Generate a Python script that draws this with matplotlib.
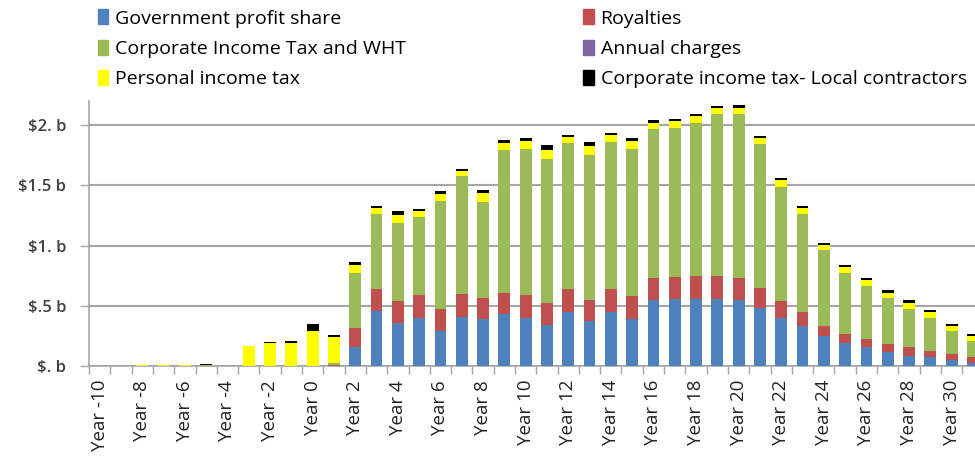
import numpy as np
import matplotlib.pyplot as plt
from matplotlib.patches import Patch

plt.rcParams['font.family'] = ['Open Sans', 'DejaVu Sans']

# Years -10 .. 31
years = list(range(-10, 32))

# values in $ billions
gov_profit = [0, 0, 0, 0, 0, 0, 0, 0, 0, 0, 0, 0,
              0.16, 0.46, 0.36, 0.40, 0.29, 0.41, 0.39, 0.43, 0.40, 0.34, 0.45, 0.37, 0.45, 0.39,
              0.55, 0.56, 0.56, 0.56, 0.55, 0.485, 0.40, 0.33, 0.245, 0.19, 0.155, 0.12, 0.085, 0.078, 0.048, 0.028]
royalties = [0, 0, 0, 0, 0, 0, 0, 0, 0, 0, 0, 0.01,
             0.155, 0.18, 0.18, 0.19, 0.18, 0.19, 0.175, 0.18, 0.19, 0.18, 0.19, 0.175, 0.19, 0.19,
             0.18, 0.18, 0.19, 0.19, 0.18, 0.165, 0.14, 0.12, 0.09, 0.076, 0.07, 0.064, 0.076, 0.048, 0.05, 0.048]
corp_tax = [0, 0, 0.004, 0.004, 0.004, 0.005, 0, 0, 0, 0, 0, 0.018,
            0.46, 0.62, 0.65, 0.645, 0.90, 0.975, 0.80, 1.18, 1.21, 1.20, 1.21, 1.21, 1.22, 1.22,
            1.235, 1.24, 1.27, 1.345, 1.36, 1.19, 0.945, 0.81, 0.625, 0.505, 0.44, 0.38, 0.315, 0.27, 0.195, 0.135]
annual_charges = [0] * 42
personal_tax = [0, 0, 0.002, 0.003, 0.003, 0.002, 0, 0.165, 0.19, 0.19, 0.29, 0.21,
                0.064, 0.048, 0.067, 0.05, 0.056, 0.042, 0.07, 0.064, 0.064, 0.076, 0.048, 0.073, 0.056, 0.064,
                0.053, 0.05, 0.056, 0.05, 0.056, 0.05, 0.056, 0.053, 0.048, 0.048, 0.048, 0.045, 0.05, 0.056, 0.042, 0.034]
local_contr = [0, 0, 0.002, 0.003, 0.003, 0.006, 0, 0.005, 0.012, 0.015, 0.062, 0.02,
               0.022, 0.017, 0.028, 0.022, 0.028, 0.017, 0.028, 0.025, 0.028, 0.036, 0.017, 0.034, 0.02, 0.025,
               0.022, 0.022, 0.02, 0.014, 0.017, 0.017, 0.017, 0.017, 0.017, 0.02, 0.02, 0.02, 0.02, 0.017, 0.017, 0.017]

series = [
    ('Government profit share', gov_profit, '#4F81BD'),
    ('Royalties', royalties, '#C0504D'),
    ('Corporate Income Tax and WHT', corp_tax, '#9BBB59'),
    ('Annual charges', annual_charges, '#8064A2'),
    ('Personal income tax', personal_tax, '#FFFF00'),
    ('Corporate income tax- Local contractors', local_contr, '#000000'),
]

fig = plt.figure(figsize=(9.75, 4.57), dpi=100)
ax = fig.add_axes([89 / 975, 91 / 457, 894.6 / 975, 265 / 457])

x = np.arange(len(years))
bottom = np.zeros(len(years))
for name, vals, col in series:
    vals = np.array(vals)
    ax.bar(x, vals, 0.55, bottom=bottom, color=col, zorder=3)
    bottom += vals

ax.set_xlim(-0.5, len(years) - 0.5)
ax.set_ylim(0, 2.2)
ax.set_yticks([0, 0.5, 1.0, 1.5, 2.0])
ax.set_yticklabels(['$. b', '$.5 b', '$1. b', '$1.5 b', '$2. b'],
                   fontsize=12, fontweight='semibold', color='#404040')
ax.yaxis.grid(True, color='#a6a6a6', lw=1.5, zorder=0)

ax.set_xticks(x[::2])
ax.set_xticklabels(['Year %d' % y for y in years[::2]], rotation=90, fontsize=13.5, color='#222222')
ax.set_xticks(np.arange(-0.5, len(years), 1), minor=True)
ax.tick_params(axis='x', which='major', length=0, pad=10)
ax.tick_params(axis='x', which='minor', length=6, color='#a6a6a6', width=1)
ax.tick_params(axis='y', length=6.5, color='#a6a6a6', width=1, pad=10)

for s in ['top', 'right']:
    ax.spines[s].set_visible(False)
for s in ['left', 'bottom']:
    ax.spines[s].set_color('#a6a6a6')
    ax.spines[s].set_linewidth(1.2)

# legend, two columns filled row by row
handles = [Patch(color=c, label=n) for n, v, c in series]
order = [0, 2, 4, 1, 3, 5]
fig.legend([handles[i] for i in order], [series[i][0] for i in order],
           ncol=2, loc='upper left', bbox_to_anchor=(86 / 975, 1.005), frameon=False,
           fontsize=14, handlelength=0.55, handleheight=0.8, handletextpad=0.35,
           columnspacing=9.1, labelspacing=0.62, borderaxespad=0.2)

fig.savefig('out.png', dpi=100)
